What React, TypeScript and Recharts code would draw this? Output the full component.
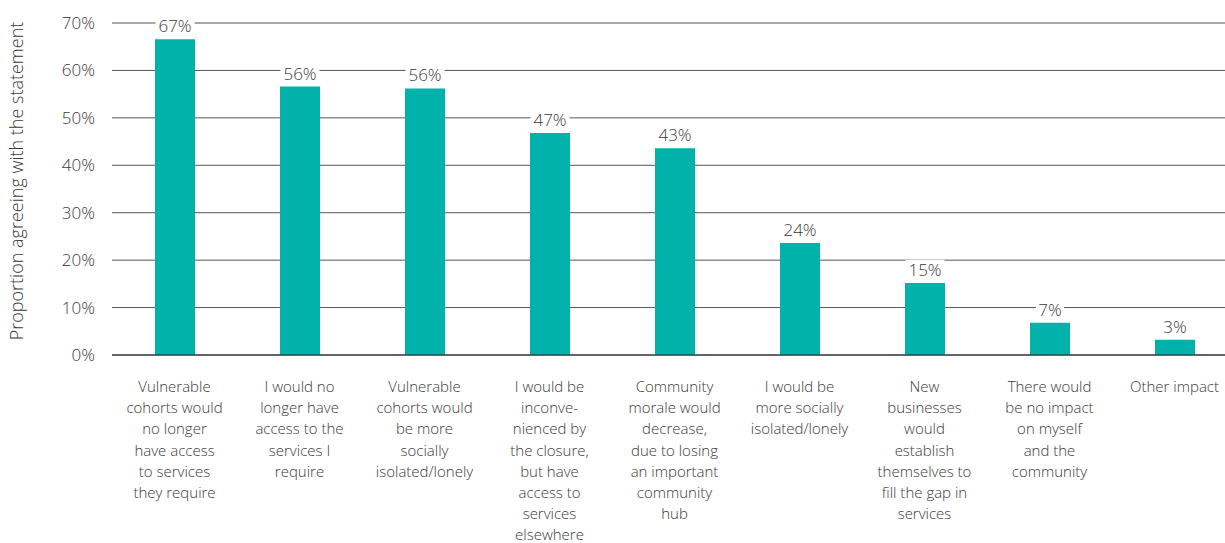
import { BarChart, Bar, XAxis, YAxis, CartesianGrid, LabelList } from 'recharts';

const categories = [
    'Vulnerable\ncohorts would\nno longer\nhave access\nto services\nthey require',
    'I would no\nlonger have\naccess to the\nservices I\nrequire',
    'Vulnerable\ncohorts would\nbe more\nsocially\nisolated/lonely',
    'I would be\ninconve-\nnienced by\nthe closure,\nbut have\naccess to\nservices\nelsewhere',
    'Community\nmorale would\ndecrease,\ndue to losing\nan important\ncommunity\nhub',
    'I would be\nmore socially\nisolated/lonely',
    'New\nbusinesses\nwould\nestablish\nthemselves to\nfill the gap in\nservices',
    'There would\nbe no impact\non myself\nand the\ncommunity',
    'Other impact',
];

const values = [66.6, 56.6, 56.2, 46.8, 43.6, 23.6, 15.2, 6.8, 3.2];
const valueLabels = ['67%', '56%', '56%', '47%', '43%', '24%', '15%', '7%', '3%'];
const yTicks = [0, 10, 20, 30, 40, 50, 60, 70];

const data = categories.map((c, i) => ({ name: c, value: values[i], label: valueLabels[i] }));

const FONT = '"Open Sans", sans-serif';
const TEXT = '#3a3a3a';

function CategoryTick(props: any) {
    const { x, y, payload } = props;
    const lines = String(payload.value).split('\n');
    return (
        <text x={x} y={y + 29} textAnchor="middle" fill={TEXT} fontSize={15} fontWeight={300} fontFamily={FONT}>
            {lines.map((l, i) => (
                <tspan key={i} x={x} dy={i === 0 ? 0 : 21.2}>
                    {l}
                </tspan>
            ))}
        </text>
    );
}

function ValueLabel(props: any) {
    const { x, y, width, index } = props;
    const cx = x + width / 2;
    const text = valueLabels[index];
    const w = text.length * 11 + 6;
    return (
        <g>
            <rect x={cx - w / 2} y={y - 23} width={w} height={20} fill="#fff" />
            <text x={cx} y={y - 7} textAnchor="middle" fill={TEXT} fontSize={17} fontWeight={300} fontFamily={FONT}>
                {text}
            </text>
        </g>
    );
}

export default function App() {
    return (
        <div style={{ position: 'absolute', left: 0, top: 0, width: 1225, height: 543, overflow: 'hidden', background: '#fff' }}>
            <BarChart width={1237} height={543} data={data} margin={{ top: 23, right: 0, bottom: 0, left: 0 }}>
                <CartesianGrid vertical={false} stroke="#555" strokeWidth={1} />
                <XAxis
                    dataKey="name"
                    interval={0}
                    height={188}
                    tickLine={false}
                    axisLine={{ stroke: '#222' }}
                    tick={<CategoryTick />}
                />
                <YAxis
                    width={112}
                    domain={[0, 70]}
                    ticks={yTicks}
                    tickFormatter={(v: number) => `${v}%`}
                    axisLine={false}
                    tickLine={false}
                    tickMargin={11}
                    tick={{ fill: TEXT, fontSize: 17, fontWeight: 300, fontFamily: FONT }}
                    label={{
                        value: 'Proportion agreeing with the statement',
                        angle: -90,
                        position: 'insideLeft',
                        dx: 12,
                        dy: -8,
                        style: { textAnchor: 'middle', fill: TEXT, fontSize: 18, fontWeight: 300, fontFamily: FONT },
                    }}
                />
                <Bar dataKey="value" fill="#00B2A9" barSize={40} isAnimationActive={false}>
                    <LabelList dataKey="label" content={<ValueLabel />} />
                </Bar>
            </BarChart>
        </div>
    );
}
